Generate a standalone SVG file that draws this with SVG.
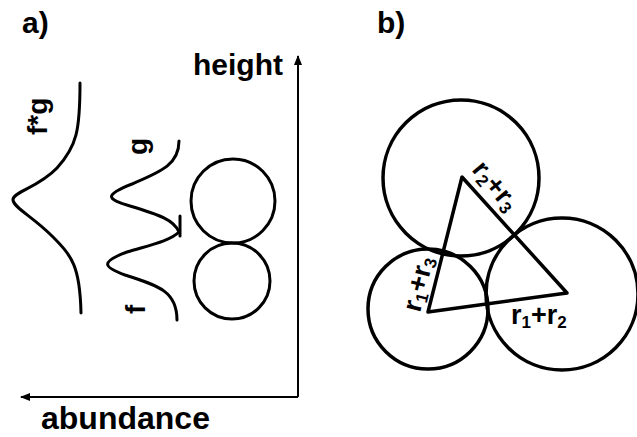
<svg xmlns="http://www.w3.org/2000/svg" width="637" height="437" viewBox="0 0 637 437">
<style>
text{font-family:"Liberation Sans",Arial,sans-serif;font-weight:bold;fill:#000}
.ln{fill:none;stroke:#000;stroke-width:3;stroke-linecap:round;stroke-linejoin:round}
.ax{fill:none;stroke:#000;stroke-width:2}
.big{font-size:30px}
.lbl{font-size:28px}
.rl{font-size:27px}
.sub{font-size:17px}
</style>
<defs>
<marker id="ah" viewBox="0 0 10 10" refX="9" refY="5" markerWidth="5" markerHeight="5" orient="auto" markerUnits="strokeWidth">
<path d="M0,1 L10,5 L0,9 z" fill="#000"/>
</marker>
</defs>
<rect width="637" height="437" fill="#fff"/>
<g id="panel-a">
<text class="big" x="22" y="33">a)</text>
<g id="axes">
<path class="ax" d="M298,397 L298,56" marker-end="url(#ah)"/>
<path class="ax" d="M298,397 L21,397" marker-end="url(#ah)"/>
</g>
<text class="big" x="193" y="75">height</text>
<text class="big" x="41" y="429" style="font-size:32px">abundance</text>
<g id="fg-curve">
<path class="ln" d="M80,83 C80,130 77,146 57,168 C38,188 12,192 13,200 C14,208 32,216 52,236 C72,256 80,266 81,313"/>
<text class="lbl" transform="translate(47,135) rotate(-90)">f*g</text>
</g>
<g id="f-g-curves">
<path class="ln" d="M179,141 C179,165 160,172 132,184 C104,195 106,199 130,206 C160,215 174,220 179,232"/>
<path class="ln" d="M179,232 C170,241 150,245 127,252 C100,262 103,267 125,275 C160,286 177,292 177,320"/>
<path class="ln" d="M180,216 L180,236"/>
<text class="lbl" transform="translate(147,155) rotate(-90)">g</text>
<text class="lbl" transform="translate(145,314) rotate(-90)">f</text>
</g>
<g id="circles-a">
<circle class="ln" cx="233" cy="201" r="42"/>
<circle class="ln" cx="232" cy="281" r="38"/>
</g>
</g>
<g id="panel-b">
<text class="big" x="377" y="33">b)</text>
<g id="circle-1"><circle class="ln" cx="428" cy="309" r="60" style="stroke-width:3.5"/></g>
<g id="circle-2"><circle class="ln" cx="562" cy="294" r="76" style="stroke-width:3.5"/></g>
<g id="circle-3"><circle class="ln" cx="461" cy="178" r="78" style="stroke-width:3.5"/></g>
<g id="triangle"><path class="ln" d="M462,177 L428,312 L567,293 Z" style="stroke-width:3.5"/></g>
<text class="rl" transform="translate(471,170) rotate(50)">r<tspan class="sub" dy="4">2</tspan><tspan dy="-4">+r</tspan><tspan class="sub" dy="4">3</tspan></text>
<text class="rl" transform="translate(420,313) rotate(-76)">r<tspan class="sub" dy="4">1</tspan><tspan dy="-4">+r</tspan><tspan class="sub" dy="4">3</tspan></text>
<text class="rl" x="511" y="324">r<tspan class="sub" dy="4">1</tspan><tspan dy="-4">+r</tspan><tspan class="sub" dy="4">2</tspan></text>
</g>
</svg>
